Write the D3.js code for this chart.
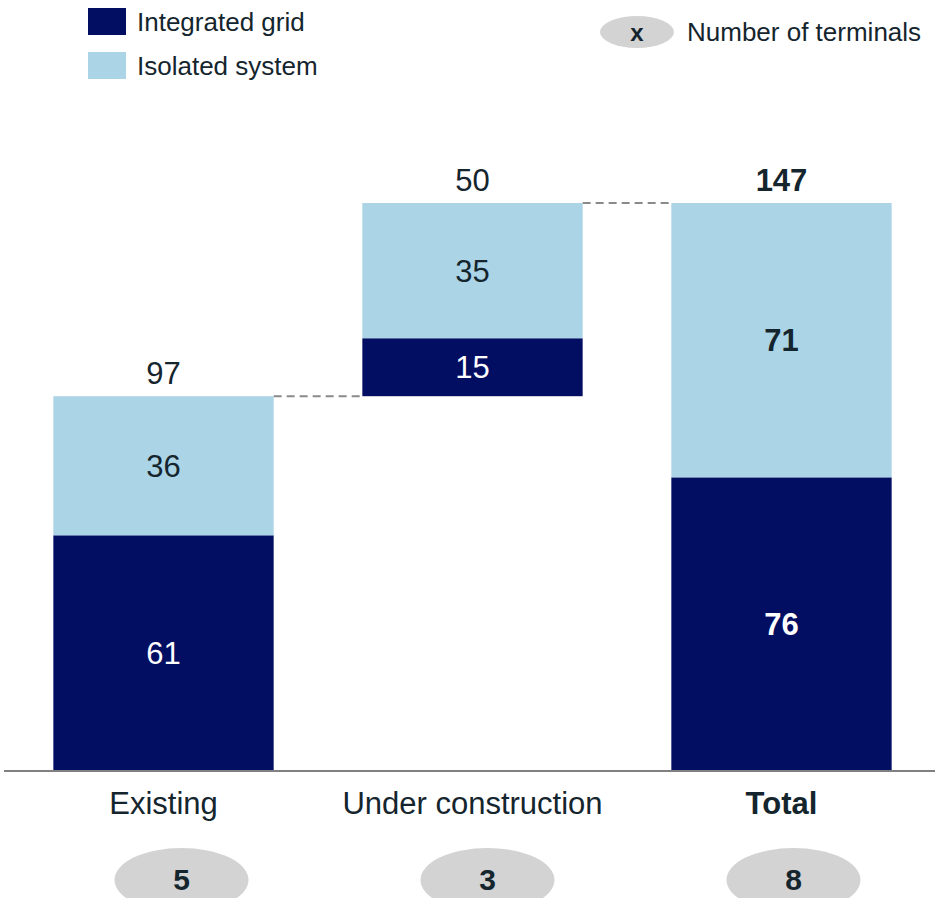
<!DOCTYPE html>
<html>
<head>
<meta charset="utf-8">
<script src="https://cdn.jsdelivr.net/npm/d3@7"></script>
<style>
  html, body { margin: 0; padding: 0; background: #fff; }
  svg { display: block; font-family: "Liberation Sans", Arial, sans-serif; }
</style>
</head>
<body>
<svg id="chart" width="935" height="898"></svg>
<script>
// Terminal counts per stage
const categories = ["Existing", "Under construction", "Total"];
const integrated = [61, 15, 76];
const isolated = [36, 35, 71];
const baseOffsets = [0, 97, 0];          // waterfall starting level of each column
const terminals = [5, 3, 8];
const seriesNames = ["Integrated grid", "Isolated system"];

const colors = { integrated: "#020E62", isolated: "#ABD4E7", text: "#15252E", grey: "#D3D3D3", line: "#8A8A8A" };

const svg = d3.select("#chart");
const baseY = 771;

const x = d3.scaleBand().domain(categories).range([7, 938]).paddingInner(0.287).paddingOuter(0.15);
const y = d3.scaleLinear().domain([0, 147]).range([baseY, 203]);

const data = categories.map((c, i) => ({
  cat: c, i,
  base: baseOffsets[i],
  integrated: integrated[i],
  isolated: isolated[i],
  total: integrated[i] + isolated[i],
  bold: c === "Total"
}));

// Connector dashed lines between columns
for (let i = 0; i < data.length - 1; i++) {
  const lvl = data[i].base + data[i].total;
  svg.append("line")
    .attr("x1", x(data[i].cat) + x.bandwidth())
    .attr("x2", x(data[i + 1].cat))
    .attr("y1", y(lvl)).attr("y2", y(lvl))
    .attr("stroke", colors.line).attr("stroke-width", 2)
    .attr("stroke-dasharray", "8,5");
}

const g = svg.append("g");

// Integrated grid segments
g.selectAll("rect.int").data(data).join("rect")
  .attr("class", "int")
  .attr("x", d => x(d.cat)).attr("width", x.bandwidth())
  .attr("y", d => y(d.base + d.integrated))
  .attr("height", d => y(d.base) - y(d.base + d.integrated))
  .attr("fill", colors.integrated);

// Isolated system segments
g.selectAll("rect.iso").data(data).join("rect")
  .attr("class", "iso")
  .attr("x", d => x(d.cat)).attr("width", x.bandwidth())
  .attr("y", d => y(d.base + d.total))
  .attr("height", d => y(d.base + d.integrated) - y(d.base + d.total))
  .attr("fill", colors.isolated);

const valueSize = 31;

// Segment labels
g.selectAll("text.intl").data(data).join("text")
  .attr("x", d => x(d.cat) + x.bandwidth() / 2)
  .attr("y", d => y(d.base + d.integrated / 2))
  .attr("dy", "0.36em")
  .attr("text-anchor", "middle")
  .attr("font-size", valueSize)
  .attr("font-weight", d => d.bold ? "bold" : "normal")
  .attr("fill", "#ffffff")
  .text(d => d.integrated);

g.selectAll("text.isol").data(data).join("text")
  .attr("x", d => x(d.cat) + x.bandwidth() / 2)
  .attr("y", d => y(d.base + d.integrated + d.isolated / 2))
  .attr("dy", "0.36em")
  .attr("text-anchor", "middle")
  .attr("font-size", valueSize)
  .attr("font-weight", d => d.bold ? "bold" : "normal")
  .attr("fill", colors.text)
  .text(d => d.isolated);

// Totals above columns
g.selectAll("text.tot").data(data).join("text")
  .attr("x", d => x(d.cat) + x.bandwidth() / 2)
  .attr("y", d => y(d.base + d.total) - 12)
  .attr("text-anchor", "middle")
  .attr("font-size", valueSize)
  .attr("font-weight", d => d.bold ? "bold" : "normal")
  .attr("fill", colors.text)
  .text(d => d.total);

// Baseline axis
const axis = svg.append("g").attr("transform", `translate(0,${baseY})`)
  .call(d3.axisBottom(x).tickSize(0).tickPadding(21));
axis.select(".domain").attr("d", "M4,0H935").attr("stroke", "#808080").attr("stroke-width", 2);
axis.selectAll(".tick text")
  .attr("font-size", 31)
  .attr("font-family", "Liberation Sans, Arial, sans-serif")
  .attr("fill", colors.text)
  .attr("font-weight", d => d === "Total" ? "bold" : "normal");

// Terminal count bubbles
const bubbles = svg.append("g");
bubbles.selectAll("ellipse").data(data).join("ellipse")
  .attr("cx", d => x(d.cat) + x.bandwidth() / 2 + 18 - d.i * 3)
  .attr("cy", 880).attr("rx", 67).attr("ry", 32)
  .attr("fill", colors.grey);
bubbles.selectAll("text").data(data).join("text")
  .attr("x", d => x(d.cat) + x.bandwidth() / 2 + 18 - d.i * 3)
  .attr("y", 879).attr("dy", "0.36em")
  .attr("text-anchor", "middle")
  .attr("font-size", 30).attr("font-weight", "bold")
  .attr("fill", colors.text)
  .text((d, i) => terminals[i]);

// Legend
const legend = svg.append("g");
const legendColors = [colors.integrated, colors.isolated];
seriesNames.forEach((name, i) => {
  legend.append("rect").attr("x", 88).attr("y", 8 + i * 44).attr("width", 38).attr("height", 27)
    .attr("fill", legendColors[i]);
  legend.append("text").attr("x", 137).attr("y", 22 + i * 44).attr("dy", "0.36em")
    .attr("font-size", 26).attr("fill", colors.text).text(name);
});
legend.append("ellipse").attr("cx", 637).attr("cy", 32).attr("rx", 37).attr("ry", 16).attr("fill", colors.grey);
legend.append("text").attr("x", 637).attr("y", 32).attr("dy", "0.36em").attr("text-anchor", "middle")
  .attr("font-size", 24).attr("font-weight", "bold").attr("fill", colors.text).text("x");
legend.append("text").attr("x", 687).attr("y", 32).attr("dy", "0.36em")
  .attr("font-size", 26).attr("fill", colors.text).text("Number of terminals");
</script>
</body>
</html>
